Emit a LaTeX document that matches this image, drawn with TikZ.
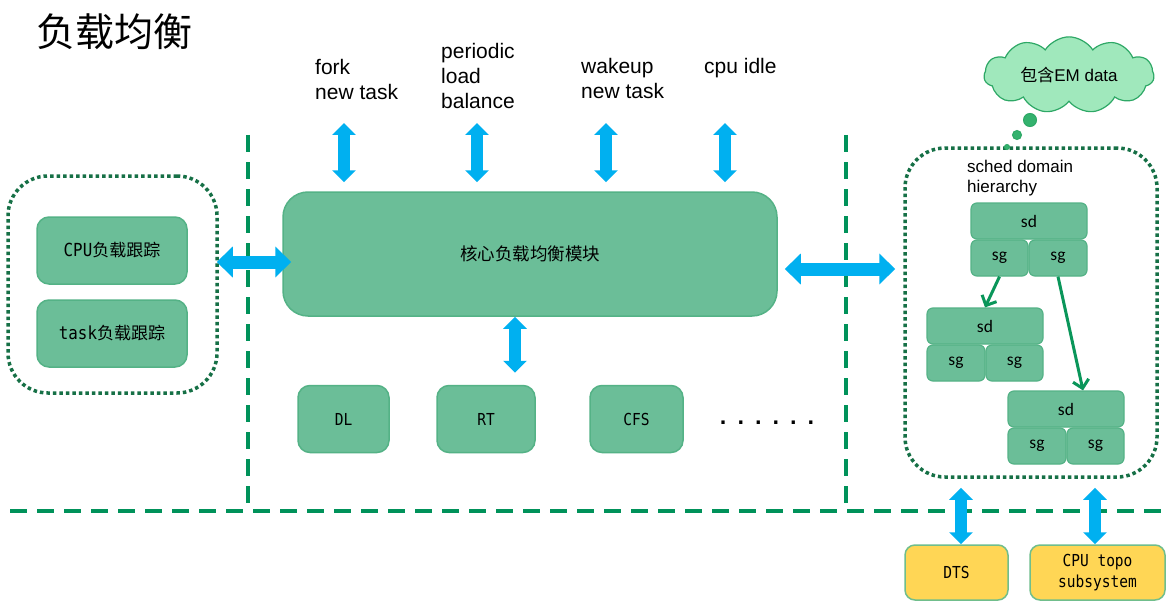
\documentclass[tikz,border=0pt]{standalone}
\usepackage{fontspec}
\setmainfont{Liberation Sans}
\newfontfamily\cjk{Noto Sans CJK SC}
\newfontfamily\monof[FakeStretch=0.88]{DejaVu Sans Mono}
\newfontfamily\dotf{DejaVu Sans Mono}
\newfontfamily\calf{Carlito}
\usetikzlibrary{arrows.meta,shapes.symbols}
\definecolor{boxfill}{RGB}{107,190,152}
\definecolor{boxline}{RGB}{84,178,134}
\definecolor{arrblue}{RGB}{0,176,240}
\definecolor{dashgreen}{RGB}{0,146,90}
\definecolor{dotgreen}{RGB}{22,112,70}
\definecolor{cloudfill}{RGB}{160,232,188}
\definecolor{cloudline}{RGB}{46,168,102}
\definecolor{bubblefill}{RGB}{52,178,110}
\definecolor{yellowfill}{RGB}{255,214,85}
\definecolor{yellowline}{RGB}{112,190,140}
\definecolor{sdarrow}{RGB}{10,150,90}
\begin{document}
\begin{tikzpicture}[x=1pt,y=-1pt,
  gbox/.style={draw=boxline, fill=boxfill, line width=1.5pt, rounded corners=12pt, inner sep=0pt, align=center},
  ybox/.style={draw=yellowline, fill=yellowfill, line width=1.5pt, rounded corners=10pt, inner sep=0pt, align=center,
    font=\monof\fontsize{16.5}{21}\selectfont},
  sdbox/.style={draw=boxline, fill=boxfill, line width=1.2pt, rounded corners=6pt, inner sep=0pt,
    minimum height=36pt, font=\calf\fontsize{17.5}{17.5}\selectfont},
  dotbox/.style={draw=dotgreen, line width=3.5pt, dash pattern=on 3.5pt off 3pt, rounded corners=40pt, inner sep=0pt},
  gdash/.style={draw=dashgreen, line width=4pt, dash pattern=on 17pt off 10pt},
  bluev/.style={draw=arrblue, line width=12pt, {Triangle[length=12pt,width=23pt]}-{Triangle[length=12pt,width=23pt]}},
  blueh/.style={draw=arrblue, line width=13pt, {Triangle[length=16pt,width=30pt]}-{Triangle[length=16pt,width=30pt]}},
  garrow/.style={draw=sdarrow, line width=3pt, -{Straight Barb[length=8pt,width=16pt]}},
  toplabel/.style={anchor=north west, inner sep=0pt, align=left, font=\fontsize{21}{25}\selectfont},
  bubble/.style={circle, draw=cloudline, fill=bubblefill, line width=1pt, inner sep=0pt}
]
\useasboundingbox (0,0) rectangle (1172,607);
\fill[white] (0,0) rectangle (1172,607);

% title
\node[anchor=west, inner sep=0pt, font=\cjk\fontsize{39}{39}\selectfont] (title) at (36,32) {负载均衡};

% separators
\draw[gdash] (248,135) -- (248,511);
\draw[gdash] (846,135) -- (846,511);
\draw[gdash] (10,511) -- (1165,511);

% left group
\node[dotbox, minimum width=209pt, minimum height=217pt] (lbox) at (112.5,284.5) {};
\node[gbox, minimum width=150pt, minimum height=67pt, font=\fontsize{17}{20}\selectfont] (cpu) at (112,250.5) {{\monof\fontsize{18}{20}\selectfont CPU}{\cjk 负载跟踪}};
\node[gbox, minimum width=150pt, minimum height=67pt, font=\fontsize{17}{20}\selectfont] (task) at (112,333.5) {{\monof\fontsize{18}{20}\selectfont task}{\cjk 负载跟踪}};

% main
\node[gbox, rounded corners=25pt, minimum width=494pt, minimum height=124pt, font=\cjk\fontsize{17.5}{20}\selectfont] (main) at (530,254) {核心负载均衡模块};

% schedulers
\node[gbox, minimum width=91pt, minimum height=67pt, font=\monof\fontsize{16.5}{18}\selectfont] (DL) at (343.5,419) {DL};
\node[gbox, minimum width=98pt, minimum height=67pt, font=\monof\fontsize{16.5}{18}\selectfont] (RT) at (486,419) {RT};
\node[gbox, minimum width=93pt, minimum height=67pt, font=\monof\fontsize{16.5}{18}\selectfont] (CFS) at (636.5,419) {CFS};
\node[anchor=base west, inner sep=0pt, font=\dotf\bfseries\fontsize{20}{20}\selectfont] (dots) at (717,424)
  {.\hspace{5.5pt}.\hspace{5.5pt}.\hspace{5.5pt}.\hspace{5.5pt}.\hspace{5.5pt}.};

% top labels
\node[toplabel] (fork) at (315,59) {fork\\new task};
\node[toplabel] (periodic) at (441,43) {periodic\\load\\balance};
\node[toplabel] (wakeup) at (581,58) {wakeup\\new task};
\node[toplabel] (idle) at (704,58) {cpu idle};

% right group
\node[dotbox, minimum width=252pt, minimum height=329pt] (rbox) at (1031,312.5) {};
\node[cloud, cloud puffs=11, cloud puff arc=115, aspect=2.4, draw=cloudline, fill=cloudfill, line width=1.2pt,
  minimum width=170pt, minimum height=70pt, inner sep=0pt, font=\fontsize{17}{17}\selectfont] (cloud) at (1069,75) {{\cjk 包含}EM data};
\node[bubble, minimum size=13pt] (b1) at (1030,120) {};
\node[bubble, minimum size=9pt] (b2) at (1017,135) {};
\node[bubble, minimum size=5pt] (b3) at (1007,147) {};
\node[anchor=north west, inner sep=0pt, align=left, font=\fontsize{17}{20}\selectfont] (sdh) at (967,160) {sched domain\\hierarchy};

\node[sdbox, minimum width=116pt] (sd1) at (1029,221) {sd};
\node[sdbox, minimum width=57pt] (sg1a) at (999.5,258) {sg};
\node[sdbox, minimum width=58pt] (sg1b) at (1058,258) {sg};
\node[sdbox, minimum width=116pt] (sd2) at (985,326) {sd};
\node[sdbox, minimum width=58pt] (sg2a) at (956,363) {sg};
\node[sdbox, minimum width=57pt] (sg2b) at (1014.5,363) {sg};
\node[sdbox, minimum width=116pt] (sd3) at (1066,409) {sd};
\node[sdbox, minimum width=58pt] (sg3a) at (1037,446) {sg};
\node[sdbox, minimum width=57pt] (sg3b) at (1095.5,446) {sg};
\draw[garrow] (sg1a.south) -- (sd2.north);
\draw[garrow] (sg1b.south) -- ([xshift=17pt]sd3.north);

% bottom boxes
\node[ybox, minimum width=103pt, minimum height=55pt] (DTS) at (956.5,572.5) {DTS};
\node[ybox, minimum width=135pt, minimum height=55pt] (topo) at (1097.5,572.5) {CPU topo\\subsystem};

% blue arrows
\coordinate (a1) at (344,123);
\coordinate (a2) at (477,123);
\coordinate (a3) at (606,123);
\coordinate (a4) at (725,123);
\draw[bluev, shorten >=9pt] (a1) -- (a1 |- main.north);
\draw[bluev, shorten >=9pt] (a2) -- (a2 |- main.north);
\draw[bluev, shorten >=9pt] (a3) -- (a3 |- main.north);
\draw[bluev, shorten >=9pt] (a4) -- (a4 |- main.north);
\coordinate (bx) at (515,0);
\draw[bluev, shorten >=12pt] (bx |- main.south) -- (bx |- RT.north);
\coordinate (ly) at (0,262);
\draw[blueh, shorten <=-2pt, shorten >=-9pt] (lbox.east |- ly) -- (main.west |- ly);
\coordinate (ry) at (0,269);
\draw[blueh, shorten <=7pt, shorten >=8pt] (main.east |- ry) -- (rbox.west |- ry);
\coordinate (d1) at (961,0);
\coordinate (d2) at (1095,0);
\draw[bluev, shorten <=9pt] (d1 |- rbox.south) -- (d1 |- DTS.north);
\draw[bluev, shorten <=9pt] (d2 |- rbox.south) -- (d2 |- topo.north);
\end{tikzpicture}
\end{document}
